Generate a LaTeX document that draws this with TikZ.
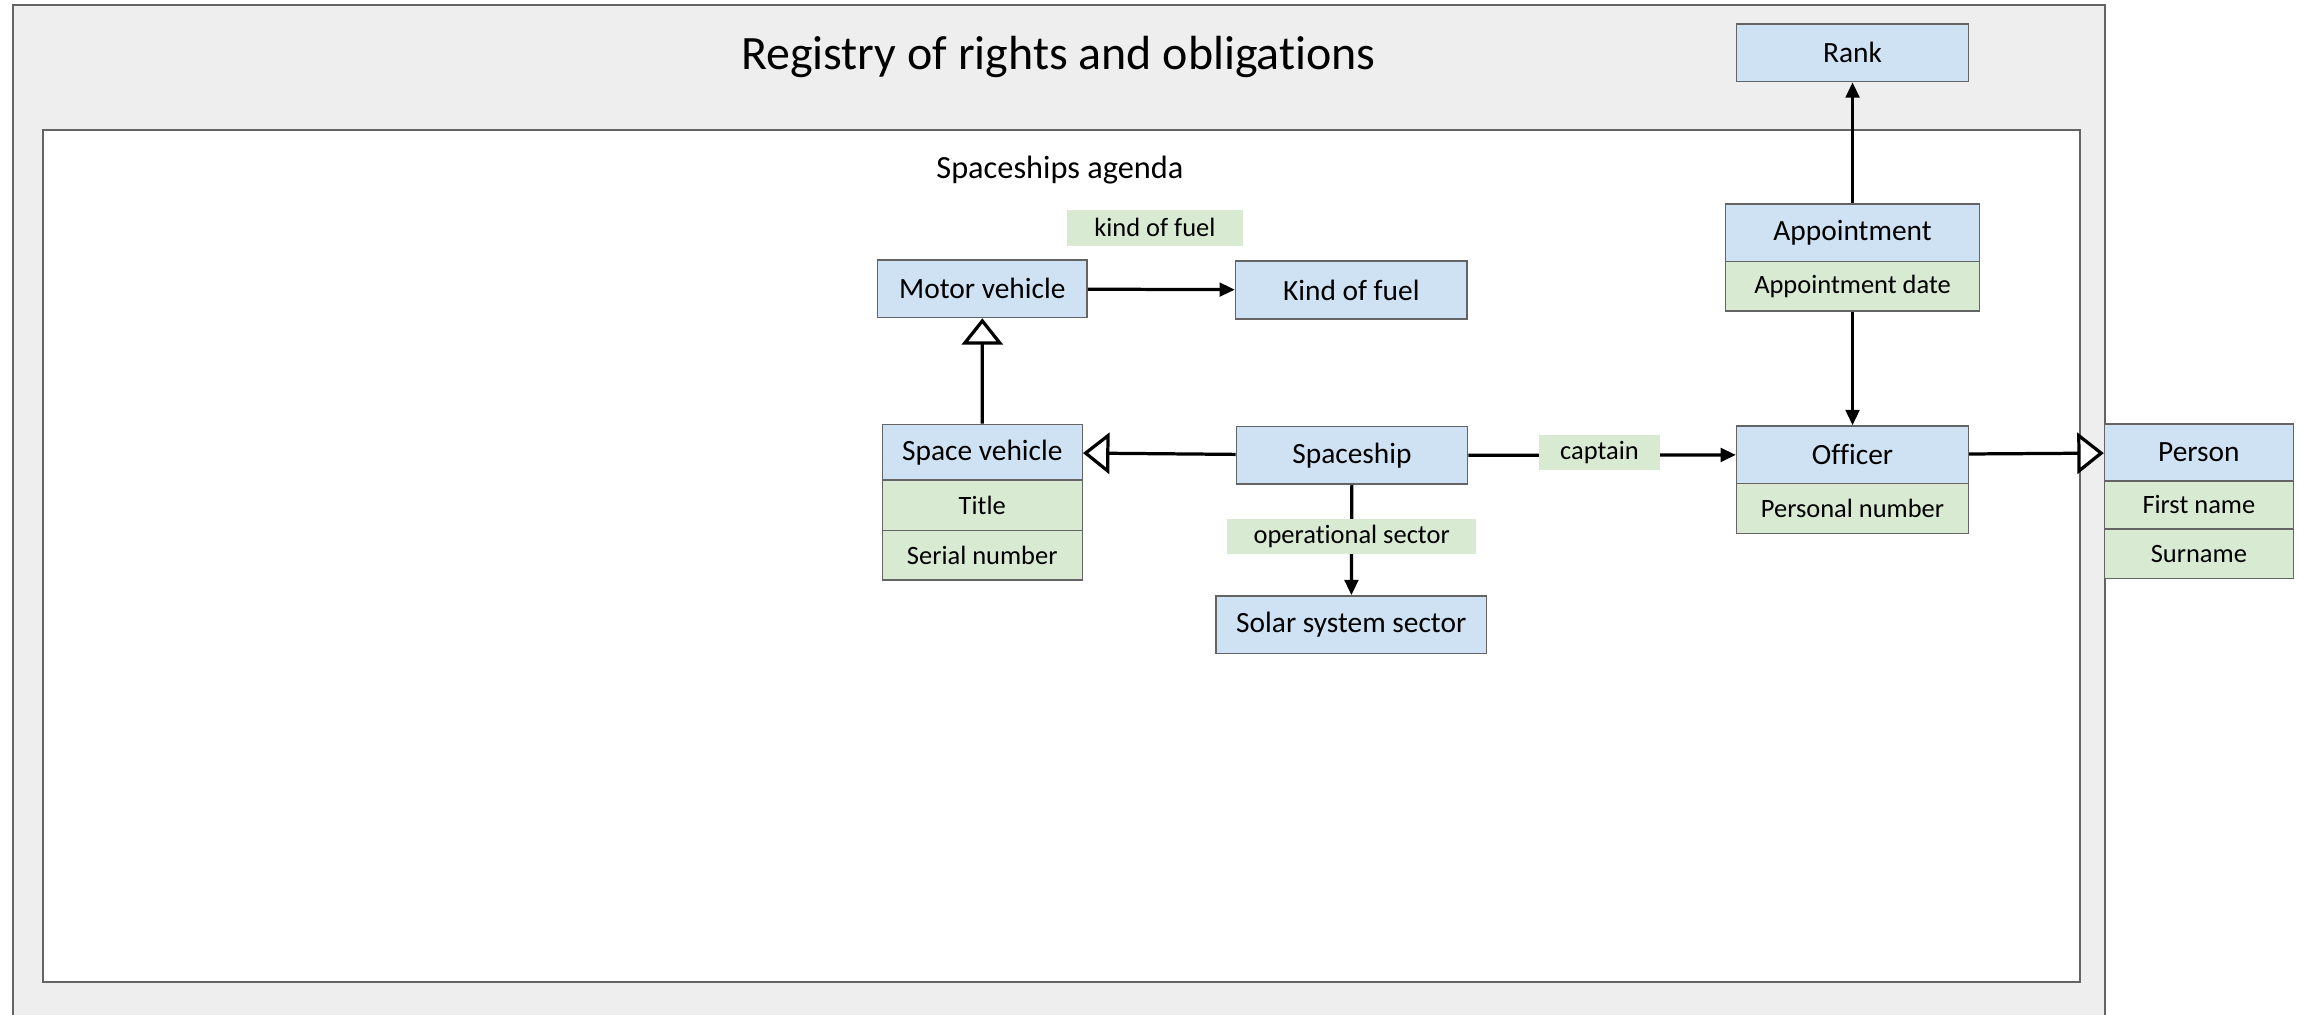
\documentclass[tikz,border=0pt]{standalone}
\usepackage{fontspec}
\setmainfont[Ligatures={NoCommon}]{Carlito}
\usetikzlibrary{arrows.meta}
\definecolor{clsblue}{RGB}{207,226,243}
\definecolor{attrgreen}{RGB}{217,234,211}
\definecolor{outergray}{RGB}{238,238,238}
\definecolor{bordergray}{RGB}{100,100,100}
\tikzset{
  box/.style={draw=bordergray, line width=0.5pt, inner sep=0pt, align=center},
  cls/.style={box, fill=clsblue, font=\fontsize{10}{12}\selectfont},
  attr/.style={box, fill=attrgreen, font=\fontsize{9}{11}\selectfont},
  rolelabel/.style={fill=attrgreen, inner sep=0pt, font=\fontsize{9}{11}\selectfont},
  assoc/.style={line width=1.1pt, -{Triangle[length=5.2pt,width=4.6pt]}},
  gen/.style={line width=1.1pt, -{Triangle[open,length=9pt,width=14pt,fill=white,line width=1.1pt]}},
}
\begin{document}
\begin{tikzpicture}[x=0.5pt,y=-0.5pt]
\useasboundingbox (0,0) rectangle (1568,690);
% frames
\path[fill=outergray, draw=bordergray, line width=0.6pt] (9,3.2) rectangle (1432,720);
\path[fill=white, draw=bordergray, line width=0.6pt] (29.5,88.5) rectangle (1415,668);
\node[font=\fontsize{16.3}{19}\selectfont, inner sep=0pt] (title) at (720,38.5) {Registry of rights and obligations};
\node[font=\fontsize{11}{13}\selectfont, inner sep=0pt] (agenda) at (721,116) {Spaceships agenda};
% classes
\node[cls, minimum width=78.85pt, minimum height=19.65pt] (rank) at (1260.2,35.85) {Rank};
\node[cls, minimum width=86.25pt, minimum height=19.45pt] (appt) at (1260.2,158.35) {Appointment};
\node[attr, minimum width=86.25pt, minimum height=16.9pt] (apptd) at (1260.2,194.7) {Appointment date};
\node[cls, minimum width=78.85pt, minimum height=19.55pt] (officer) at (1260.2,309.35) {Officer};
\node[attr, minimum width=78.85pt, minimum height=16.95pt] (pnum) at (1260.2,345.85) {Personal number};
\node[cls, minimum width=64.2pt, minimum height=19.3pt] (person) at (1495.8,307.8) {Person};
\node[attr, minimum width=64.2pt, minimum height=16.3pt] (fname) at (1495.8,343.4) {First name};
\node[attr, minimum width=64.2pt, minimum height=16.9pt] (surname) at (1495.8,376.6) {Surname};
\node[cls, minimum width=71.25pt, minimum height=19.5pt] (motor) at (668.25,196.5) {Motor vehicle};
\node[cls, minimum width=78.75pt, minimum height=19.7pt] (fuel) at (919.25,197.3) {Kind of fuel};
\node[cls, minimum width=68pt, minimum height=18.9pt] (spacev) at (668.2,307.6) {Space vehicle};
\node[attr, minimum width=68pt, minimum height=17.25pt] (titleattr) at (668.2,343.75) {Title};
\node[attr, minimum width=68pt, minimum height=16.8pt] (serial) at (668.2,377.8) {Serial number};
\node[cls, minimum width=78.7pt, minimum height=19.5pt] (spaceship) at (919.7,309.8) {Spaceship};
\node[cls, minimum width=92pt, minimum height=19.5pt] (solar) at (919.2,424.9) {Solar system sector};
% connectors
\draw[assoc] (motor) -- (fuel);
\draw[gen] (spacev) -- (motor);
\draw[gen] (spaceship) -- (spacev);
\draw[assoc] (spaceship) -- (solar);
\draw[assoc] (spaceship) -- (officer);
\draw[assoc] (appt) -- (rank);
\draw[assoc] (apptd) -- (officer);
\draw[gen] (officer) -- (person);
% role labels
\node[rolelabel, minimum width=60pt, minimum height=12.1pt] (lfuel) at (785.65,155) {kind of fuel};
\node[rolelabel, minimum width=84.5pt, minimum height=12pt] (lsector) at (919.5,365) {operational sector};
\node[rolelabel, minimum width=41pt, minimum height=12pt] (lcaptain) at (1088,308) {captain};
\end{tikzpicture}
\end{document}
